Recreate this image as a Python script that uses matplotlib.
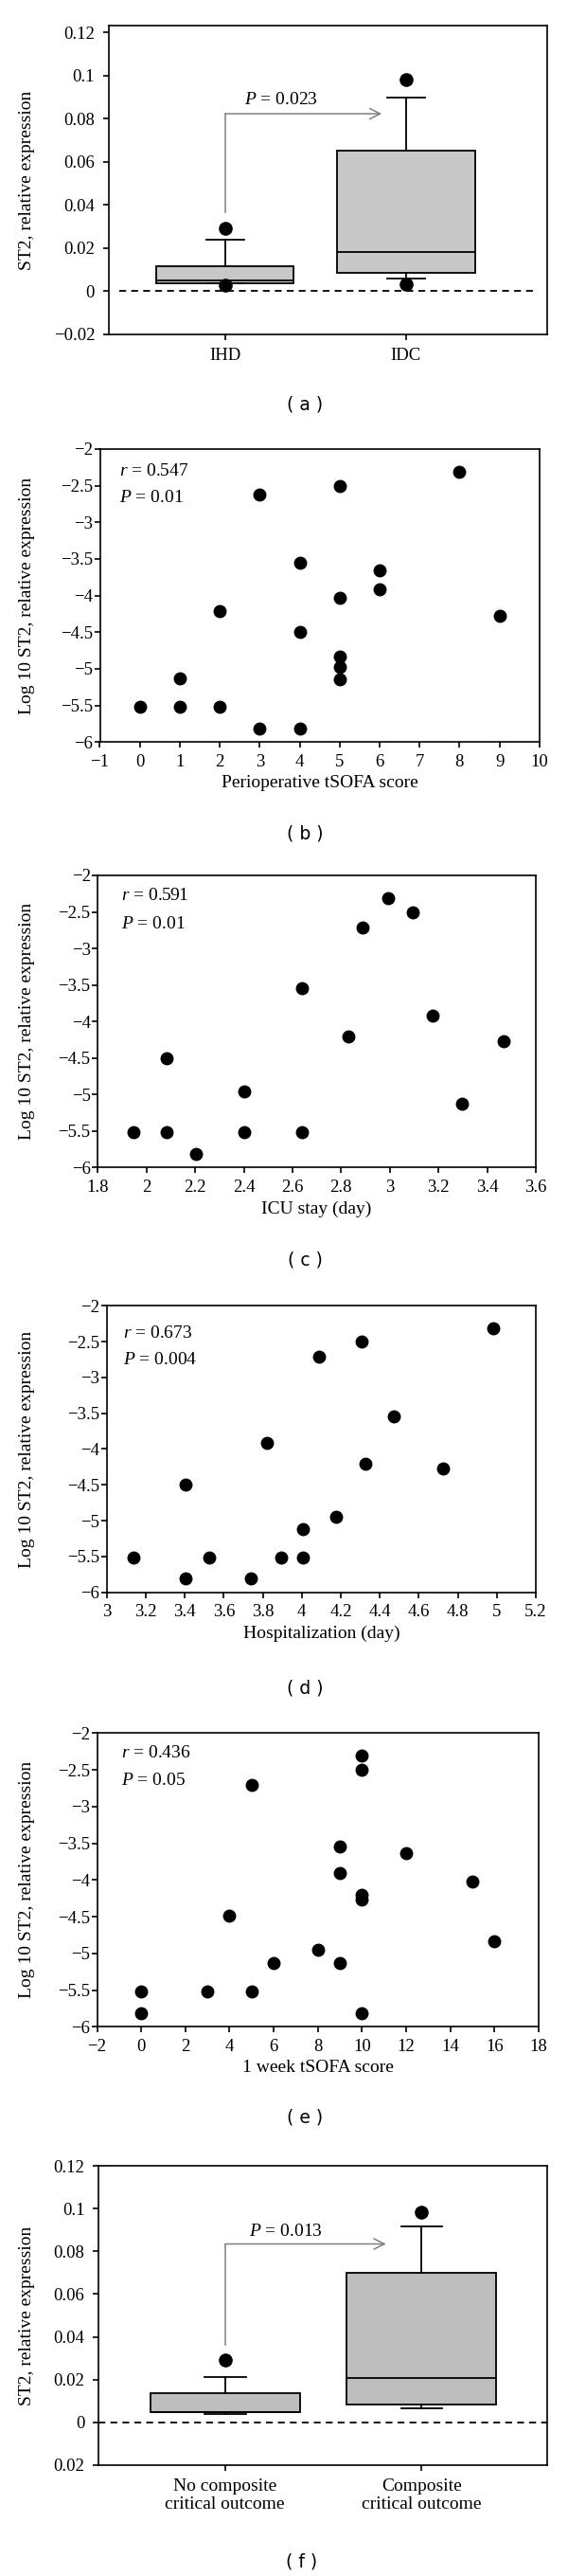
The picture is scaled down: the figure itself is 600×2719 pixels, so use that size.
import matplotlib
matplotlib.use("Agg")
import matplotlib.pyplot as plt
import matplotlib.ticker as mplticker

#
# Data
#

# (a) box plot, IHD vs IDC
a_groups = ["IHD", "IDC"]
a_q1 = [0.0035, 0.0086]
a_med = [0.0050, 0.0179]
a_q3 = [0.0113, 0.0653]
a_whislo = [0.0035, 0.0056]
a_whishi = [0.0237, 0.0900]
a_fliers = [[0.0289, 0.0028], [0.0982, 0.0032]]
a_yticks = [-0.02, 0, 0.02, 0.04, 0.06, 0.08, 0.1, 0.12]
a_yticklabels = ["\u22120.02", "0", "0.02", "0.04", "0.06", "0.08", "0.1", "0.12"]

# (b) perioperative tSOFA score
b_x = [0, 1, 1, 2, 2, 3, 3, 4, 4, 4, 5, 5, 5, 5, 5, 6, 6, 8, 9]
b_y = [-5.52, -5.52, -5.13, -5.52, -4.21, -5.82, -2.62, -5.82, -4.50, -3.55,
       -2.50, -4.03, -4.83, -4.97, -5.14, -3.65, -3.92, -2.31, -4.28]

# (c) ICU stay
c_x = [1.946, 2.083, 2.083, 2.202, 2.402, 2.402, 2.639, 2.639, 2.831, 2.889,
       2.995, 3.094, 3.176, 3.295, 3.469]
c_y = [-5.52, -5.52, -4.50, -5.82, -5.52, -4.96, -5.52, -3.54, -4.21, -2.71,
       -2.31, -2.50, -3.92, -5.13, -4.27]

# (d) hospitalization
d_x = [3.137, 3.403, 3.403, 3.525, 3.739, 3.822, 3.893, 4.008, 4.008, 4.090,
       4.175, 4.305, 4.327, 4.472, 4.725, 4.983]
d_y = [-5.52, -4.49, -5.80, -5.52, -5.80, -3.91, -5.52, -5.52, -5.12, -2.71,
       -4.95, -2.50, -4.21, -3.54, -4.27, -2.31]

# (e) 1 week tSOFA score
e_x = [0, 0, 3, 4, 5, 5, 6, 8, 9, 9, 9, 10, 10, 10, 10, 10, 12, 15, 16]
e_y = [-5.52, -5.81, -5.52, -4.49, -5.52, -2.71, -5.13, -4.95, -3.54, -3.91,
       -5.13, -2.31, -2.50, -4.20, -4.27, -5.81, -3.64, -4.02, -4.83]

# (f) box plot, composite critical outcome
f_groups = ["No composite\ncritical outcome", "Composite\ncritical outcome"]
f_q1 = [0.0047, 0.0081]
f_med = [0.0047, 0.0205]
f_q3 = [0.0138, 0.0700]
f_whislo = [0.0037, 0.0066]
f_whishi = [0.0211, 0.0917]
f_fliers = [[0.0293], [0.0982]]
f_yticks = [-0.02, 0, 0.02, 0.04, 0.06, 0.08, 0.1, 0.12]
f_yticklabels = ["0.02", "0", "0.02", "0.04", "0.06", "0.08", "0.1", "0.12"]

stats_text = {
    "b": ("0.547", "0.01"),
    "c": ("0.591", "0.01"),
    "d": ("0.673", "0.004"),
    "e": ("0.436", "0.05"),
}

#
# Style
#

W, H = 600, 2719
plt.rcParams.update({
    "font.family": ["Liberation Serif", "DejaVu Serif"],
    "font.size": 14,
    "xtick.labelsize": 13.5,
    "ytick.labelsize": 13.5,
    "mathtext.fontset": "custom",
    "mathtext.rm": "Liberation Serif",
    "mathtext.it": "Liberation Serif:italic",
    "axes.linewidth": 1.2,
    "xtick.direction": "out",
    "ytick.direction": "out",
    "xtick.major.width": 1.2,
    "ytick.major.width": 1.2,
    "xtick.major.size": 4,
    "ytick.major.size": 4,
})

fig = plt.figure(figsize=(W / 100, H / 100), dpi=100)


def make_axes(left, top, right, bottom):
    ax = fig.add_axes([left / W, 1 - bottom / H, (right - left) / W, (bottom - top) / H])
    ax.tick_params(top=False, right=False)
    ax.yaxis.set_label_coords((37 - left) / (right - left), 0.5)
    return ax


def minus_fmt(v, pos):
    return f"{v:g}".replace("-", "\u2212")


def caption(letter, x, y):
    fig.text(x / W, 1 - y / H, f"( {letter} )", family="DejaVu Sans", size=13.5,
             ha="center", va="center")


def box_panel(ax, q1, med, q3, lo, hi, fliers, face):
    stats = []
    for i in range(2):
        stats.append(dict(q1=q1[i], med=med[i], q3=q3[i], whislo=lo[i], whishi=hi[i],
                          fliers=fliers[i]))
    line = dict(color="black", linewidth=1.3)
    ax.bxp(stats, positions=[1, 2], widths=0.76, capwidths=0.21, patch_artist=True,
           boxprops=dict(facecolor=face, edgecolor="black", linewidth=1.3),
           medianprops=line, whiskerprops=line, capprops=line,
           flierprops=dict(marker="o", markerfacecolor="black", markeredgecolor="black",
                           markersize=9.5),
           manage_ticks=False)


def p_arrow(ax, y0, y1, x1, label, tx, ty):
    ax.plot([1, 1], [y0, y1], color="#808080", linewidth=1.1)
    ax.annotate("", xy=(x1, y1), xytext=(1, y1),
                arrowprops=dict(arrowstyle="->", color="#808080", lw=1.1,
                                shrinkA=0, shrinkB=0, mutation_scale=20))
    ax.text(tx, ty, f"$P$ = {label}", ha="center", va="center")


def scatter_panel(ax, x, y, xlim, xticks, xlabel, key, dx, dy_r, dy_p, wpx, hpx):
    ax.plot(x, y, "o", color="black", markersize=9, clip_on=False)
    ax.set_xlim(*xlim)
    ax.set_ylim(-6, -2)
    ax.set_xticks(xticks)
    ax.set_yticks([-6, -5.5, -5, -4.5, -4, -3.5, -3, -2.5, -2])
    ax.xaxis.set_major_formatter(mplticker.FuncFormatter(minus_fmt))
    ax.yaxis.set_major_formatter(mplticker.FuncFormatter(minus_fmt))
    ax.tick_params(axis="x", pad=5)
    ax.tick_params(axis="y", pad=1.5)
    ax.set_xlabel(xlabel, labelpad=4)
    ax.set_ylabel("Log 10 ST2, relative expression")
    r, p = stats_text[key]
    ax.text(dx / wpx, 1 - dy_r / hpx, f"$r$ = {r}", transform=ax.transAxes, va="center")
    ax.text(dx / wpx, 1 - dy_p / hpx, f"$P$ = {p}", transform=ax.transAxes, va="center")


#
# (a)
#

ax = make_axes(114.7, 27.3, 578, 353.3)
box_panel(ax, a_q1, a_med, a_q3, a_whislo, a_whishi, a_fliers, "#c8c8c8")
ax.plot([0.414, 2.707], [0, 0], color="black", linestyle=(0, (4, 3)), linewidth=1.3)
p_arrow(ax, 0.0366, 0.0823, 1.866, "0.023", 1.31, 0.0885)
ax.set_xlim(0.356, 2.78)
ax.set_ylim(-0.0203, 0.1231)
ax.set_xticks([1, 2])
ax.set_xticklabels(a_groups)
ax.set_yticks(a_yticks)
ax.set_yticklabels(a_yticklabels)
ax.tick_params(axis="x", pad=6)
ax.tick_params(axis="y", pad=6.5)
ax.set_ylabel("ST2, relative expression")
caption("a", 322, 427)

#
# (b)
#

ax = make_axes(105.5, 474, 569.8, 783.3)
scatter_panel(ax, b_x, b_y, (-1, 10), range(-1, 11), "Perioperative tSOFA score",
              "b", 20.7, 24, 51, 464.3, 309.3)
caption("b", 322, 880)

#
# (c)
#

ax = make_axes(103.3, 924, 566, 1232.3)
scatter_panel(ax, c_x, c_y, (1.8, 3.6), [1.8, 2, 2.2, 2.4, 2.6, 2.8, 3, 3.2, 3.4, 3.6],
              "ICU stay (day)", "c", 24.8, 22, 51, 462.7, 308.3)
caption("c", 322, 1330)

#
# (d)
#

ax = make_axes(112.8, 1378.3, 566, 1680.7)
scatter_panel(ax, d_x, d_y, (3, 5.2),
              [3, 3.2, 3.4, 3.6, 3.8, 4, 4.2, 4.4, 4.6, 4.8, 5, 5.2],
              "Hospitalization (day)", "d", 17.2, 29, 57.7, 453.2, 302.4)
caption("d", 322, 1781.7)

#
# (e)
#

ax = make_axes(102.5, 1829.3, 569, 2139.3)
scatter_panel(ax, e_x, e_y, (-2, 18), range(-2, 19, 2), "1 week tSOFA score",
              "e", 25.6, 21.4, 50.7, 466.5, 310)
caption("e", 322, 2235)

#
# (f)
#

ax = make_axes(104, 2286.3, 578, 2601.7)
box_panel(ax, f_q1, f_med, f_q3, f_whislo, f_whishi, f_fliers, "#bebebe")
ax.axhline(0, color="black", linestyle=(0, (4, 3)), linewidth=1.3)
p_arrow(ax, 0.0364, 0.0835, 1.819, "0.013", 1.309, 0.0891)
ax.set_xlim(0.356, 2.639)
ax.set_ylim(-0.0193, 0.12)
ax.set_xticks([1, 2])
ax.set_xticklabels(f_groups, linespacing=1.15, fontsize=14)
ax.set_yticks(f_yticks)
ax.set_yticklabels(f_yticklabels)
ax.tick_params(axis="x", pad=6)
ax.tick_params(axis="y", pad=6.5)
ax.set_ylabel("ST2, relative expression")
caption("f", 319, 2704)

fig.savefig("out.png", dpi=100)
